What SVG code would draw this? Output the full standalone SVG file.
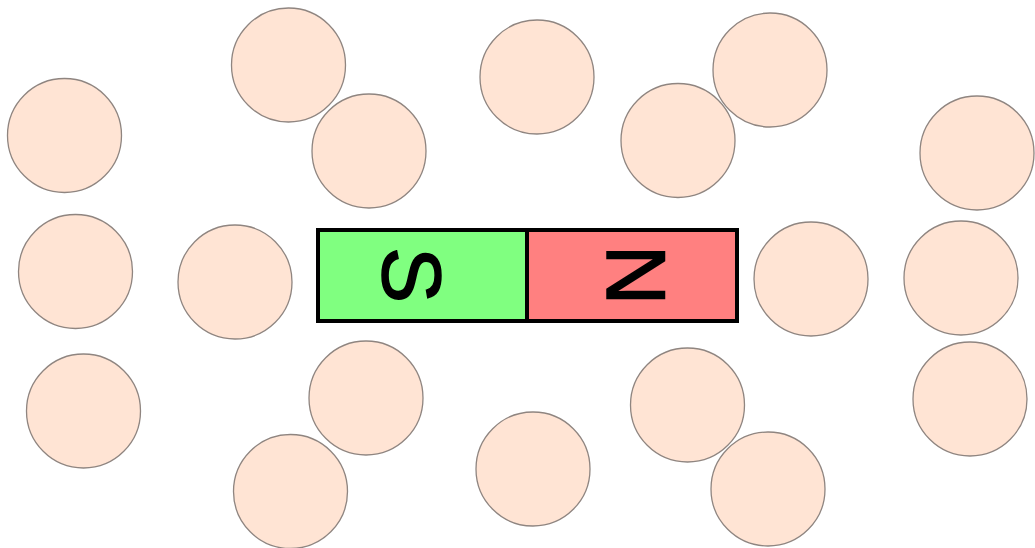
<svg xmlns="http://www.w3.org/2000/svg" width="1035" height="548" viewBox="0 0 1035 548">
<style>
.p{fill:#ffe4d4;stroke:#8f8580;stroke-width:1.3}
.l{font-family:"Liberation Sans",Arial,sans-serif;font-size:84px;fill:#000;stroke:#000;stroke-width:1.5}
</style>
<rect width="1035" height="548" fill="#fff"/>
<g id="particles">
<circle class="p" cx="64.5" cy="135.5" r="57"/>
<circle class="p" cx="75.5" cy="271.5" r="57"/>
<circle class="p" cx="83.5" cy="411" r="57"/>
<circle class="p" cx="288.5" cy="65" r="57"/>
<circle class="p" cx="369" cy="151" r="57"/>
<circle class="p" cx="235" cy="282" r="57"/>
<circle class="p" cx="366" cy="398" r="57"/>
<circle class="p" cx="290.5" cy="491.5" r="57"/>
<circle class="p" cx="537" cy="77" r="57"/>
<circle class="p" cx="533" cy="469" r="57"/>
<circle class="p" cx="678" cy="140.5" r="57"/>
<circle class="p" cx="770" cy="70" r="57"/>
<circle class="p" cx="811" cy="279" r="57"/>
<circle class="p" cx="687.5" cy="405" r="57"/>
<circle class="p" cx="768" cy="489" r="57"/>
<circle class="p" cx="977" cy="153" r="57"/>
<circle class="p" cx="961" cy="278" r="57"/>
<circle class="p" cx="970" cy="399" r="57"/>
</g>
<g id="magnet">
<rect x="318" y="230" width="209" height="91" fill="#80ff80" stroke="#000" stroke-width="4"/>
<rect x="527" y="230" width="210" height="91" fill="#ff8080" stroke="#000" stroke-width="4"/>
<text class="l" transform="translate(413,275) rotate(90)" text-anchor="middle" dy="30">S</text>
<text class="l" transform="translate(637,275) rotate(90)" text-anchor="middle" dy="30">N</text>
</g>
</svg>
